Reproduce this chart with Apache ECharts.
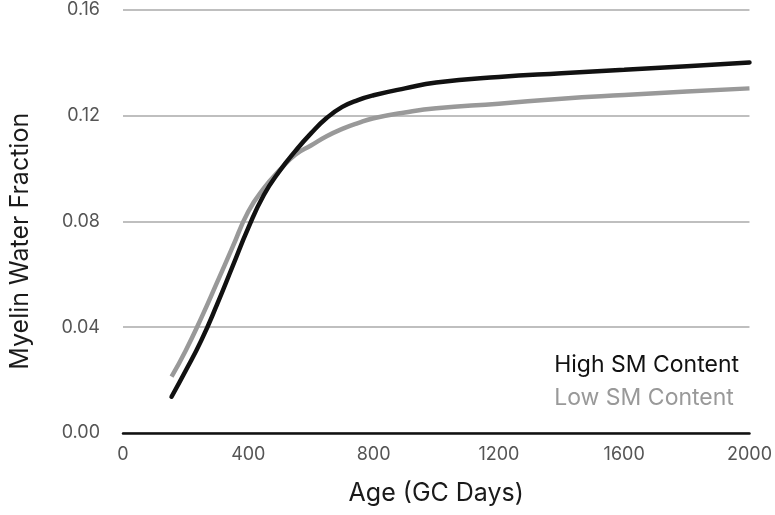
<!DOCTYPE html>
<html>
<head>
<meta charset="utf-8">
<script src="https://cdn.jsdelivr.net/npm/echarts@6/dist/echarts.min.js"></script>
<style>html,body{margin:0;padding:0;background:#fff}#c{width:775px;height:515px}</style>
</head>
<body>
<div id="c"></div>
<script>
const ages   = [155, 200, 250, 300, 350, 400, 450, 500, 550, 600, 650, 700, 750, 800, 900, 1000, 1200, 1400, 1600, 1800, 2000];
const highSM = [0.0137, 0.0235, 0.0350, 0.0485, 0.0630, 0.0775, 0.0900, 0.0990, 0.1065, 0.1132, 0.1190, 0.1232, 0.1258, 0.1276, 0.1302, 0.1324, 0.1345, 0.1359, 0.1372, 0.1386, 0.1400];
const lowSM  = [0.0213, 0.0311, 0.0435, 0.0568, 0.0703, 0.0837, 0.0925, 0.0993, 0.1051, 0.1086, 0.1121, 0.1149, 0.1171, 0.1189, 0.1211, 0.1227, 0.1244, 0.1263, 0.1277, 0.1290, 0.1302];
const xTicks = [0, 400, 800, 1200, 1600, 2000];
const yTicks = [0, 0.04, 0.08, 0.12, 0.16];
const seriesNames = ['High SM Content', 'Low SM Content'];

const font = 'Inter, Liberation Sans, Arial, sans-serif';
const chart = echarts.init(document.getElementById('c'));
chart.setOption({
  animation: false,
  backgroundColor: '#fff',
  grid: { left: 120, right: 23, top: 9.5, bottom: 82, containLabel: false },
  legend: {
    orient: 'vertical', right: 31, top: 349, itemGap: 10,
    icon: 'none', itemWidth: 0, itemHeight: 0,
    textStyle: { fontFamily: font, fontSize: 23 },
    data: [
      { name: seriesNames[0], textStyle: { color: '#111' } },
      { name: seriesNames[1], textStyle: { color: '#999' } }
    ]
  },
  xAxis: {
    type: 'value', min: xTicks[0], max: xTicks[xTicks.length - 1], interval: 400,
    name: 'Age (GC Days)', nameLocation: 'middle', nameGap: 48,
    nameTextStyle: { fontFamily: font, fontSize: 25, color: '#1a1a1a' },
    axisLine: { show: true, lineStyle: { color: '#111', width: 2.5 } },
    axisTick: { show: false },
    splitLine: { show: false },
    axisLabel: { margin: 13, fontFamily: font, fontSize: 18, color: '#555', formatter: v => String(v) }
  },
  yAxis: {
    type: 'value', min: yTicks[0], max: yTicks[yTicks.length - 1], interval: 0.04,
    name: 'Myelin Water Fraction', nameLocation: 'middle', nameGap: 90,
    nameTextStyle: { fontFamily: font, fontSize: 25, color: '#1a1a1a', padding: [0, 40, 0, 0] },
    axisLine: { show: false },
    axisTick: { show: false },
    splitLine: { show: true, lineStyle: { color: '#aaa', width: 1.5 } },
    axisLabel: { margin: 23, fontFamily: font, fontSize: 18, color: '#555', formatter: v => v.toFixed(2) }
  },
  series: [
    {
      name: seriesNames[1], type: 'line', smooth: 0.5, showSymbol: false,
      data: ages.map((a, i) => [a, lowSM[i]]),
      lineStyle: { color: '#999', width: 4.5, cap: 'butt' }, itemStyle: { color: '#999' }, z: 2
    },
    {
      name: seriesNames[0], type: 'line', smooth: 0.5, showSymbol: false,
      data: ages.map((a, i) => [a, highSM[i]]),
      lineStyle: { color: '#111', width: 4.5, cap: 'round' }, itemStyle: { color: '#111' }, z: 3
    }
  ]
});
</script>
</body>
</html>
